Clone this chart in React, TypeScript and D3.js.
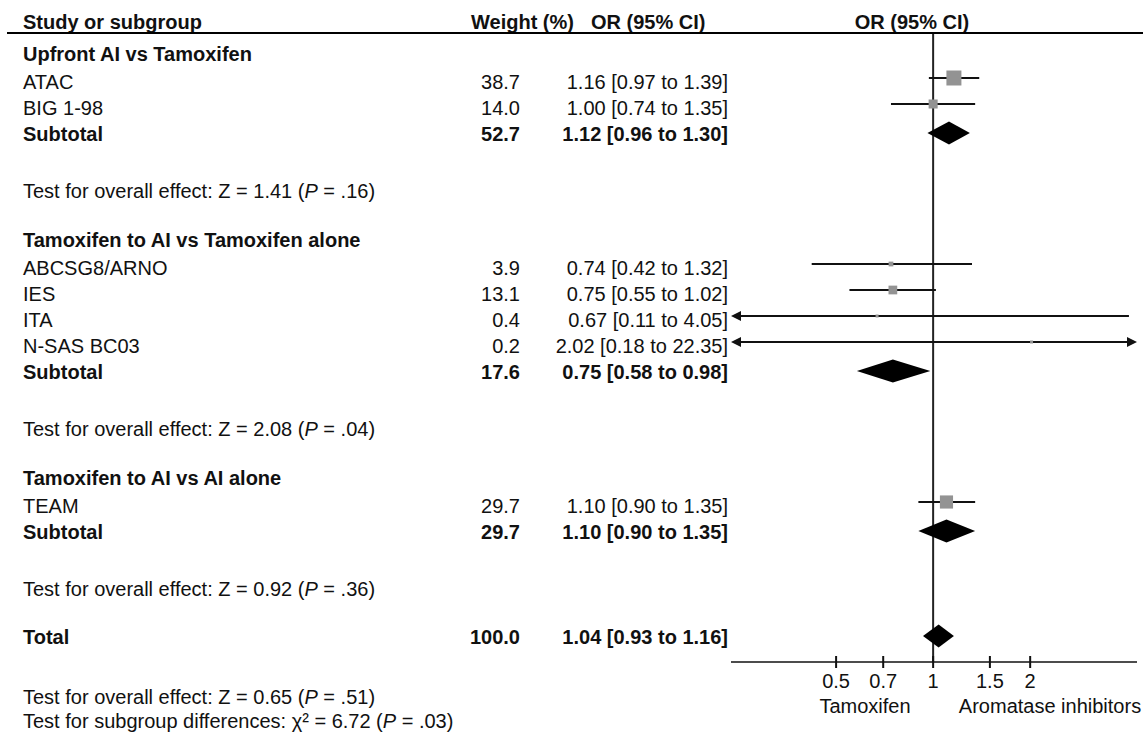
import React from 'react';
import * as d3 from 'd3';

// study level data
const groups = ['Upfront AI vs Tamoxifen', 'Tamoxifen to AI vs Tamoxifen alone', 'Tamoxifen to AI vs AI alone'];
const studies = ['ATAC', 'BIG 1-98', 'ABCSG8/ARNO', 'IES', 'ITA', 'N-SAS BC03', 'TEAM'];
const studyGroup = [0, 0, 1, 1, 1, 1, 2];
const weights = [38.7, 14.0, 3.9, 13.1, 0.4, 0.2, 29.7];
const oddsRatio = [1.16, 1.0, 0.74, 0.75, 0.67, 2.02, 1.1];
const lower = [0.97, 0.74, 0.42, 0.55, 0.11, 0.18, 0.9];
const upper = [1.39, 1.35, 1.32, 1.02, 4.05, 22.35, 1.35];

// subgroup totals
const subWeights = [52.7, 17.6, 29.7];
const subOR = [1.12, 0.75, 1.1];
const subLower = [0.96, 0.58, 0.9];
const subUpper = [1.3, 0.98, 1.35];
const subZ = ['1.41', '2.08', '0.92'];
const subP = ['.16', '.04', '.36'];

// overall
const totalWeight = 100.0;
const totalOR = 1.04;
const totalLower = 0.93;
const totalUpper = 1.16;
const totalZ = '0.65';
const totalP = '.51';
const chiSq = '6.72';
const chiP = '.03';

const ticks = [0.5, 0.7, 1, 1.5, 2];

const W = 1143;
const H = 732;
const FONT = '"Liberation Sans", Arial, sans-serif';
const FS = 20;

const fmt2 = d3.format('.2f');
const fmt1 = d3.format('.1f');
const ciText = (o: number, l: number, u: number) => `${fmt2(o)} [${fmt2(l)} to ${fmt2(u)}]`;

export default function App() {
  const x = d3.scaleLog().domain([0.236, 4.29]).range([731, 1137]);
  const [xMin, xMax] = x.range();
  const size = d3.scaleSqrt().domain([0, 38.7]).range([0, 15]);

  const labelX = 23;
  const weightX = 520;
  const ciX = 728;

  // vertical layout, row by row
  const rows: any[] = [];
  let y = 54;
  groups.forEach((g, gi) => {
    rows.push({ kind: 'group', y, label: g });
    y += 28;
    studies.forEach((s, i) => {
      if (studyGroup[i] !== gi) return;
      rows.push({ kind: 'study', y, i });
      y += 26;
    });
    rows.push({ kind: 'sub', y, gi });
    y += 57;
    rows.push({ kind: 'test', y, z: subZ[gi], p: subP[gi] });
    y += 49;
  });
  const totalY = y - 49 + 48;
  const axisY = totalY + 25;

  const diamond = (o: number, l: number, u: number, cy: number) => {
    const pts: [number, number][] = [
      [x(l), cy], [x(o), cy - 11.5], [x(u), cy], [x(o), cy + 11.5],
    ];
    return <polygon points={pts.map(p => p.join(',')).join(' ')} fill="#000" />;
  };

  const ciLine = (i: number, cy: number) => {
    const lo = lower[i] < x.domain()[0];
    const hi = upper[i] > x.domain()[1];
    const x1 = lo ? xMin : x(lower[i]);
    const x2 = hi ? xMax : x(upper[i]);
    const s = Math.max(3, size(weights[i]));
    return (
      <g key={'ci' + i}>
        <line x1={lo ? x1 + 4 : x1} x2={hi ? x2 - 4 : x2} y1={cy} y2={cy} stroke="#111" strokeWidth={2} />
        {lo && <polygon points={`${x1},${cy} ${x1 + 10},${cy - 5} ${x1 + 10},${cy + 5}`} fill="#111" />}
        {hi && <polygon points={`${x2},${cy} ${x2 - 10},${cy - 5} ${x2 - 10},${cy + 5}`} fill="#111" />}
        <rect x={x(oddsRatio[i]) - s / 2} y={cy - s / 2} width={s} height={s} fill="#939393" />
      </g>
    );
  };

  const text = (t: any, tx: number, cy: number, opts: any = {}) => (
    <text x={tx} y={cy + 7} fontFamily={FONT} fontSize={FS} fill="#111"
      fontWeight={opts.bold ? 'bold' : 'normal'} textAnchor={opts.anchor || 'start'}>
      {t}
    </text>
  );

  const testText = (z: string, p: string) => (
    <>Test for overall effect: Z = {z} (<tspan fontStyle="italic">P</tspan> = {p})</>
  );

  return (
    <svg width={W} height={H} style={{ position: 'absolute', left: 0, top: 0, background: '#fff' }}>
      {/* header */}
      {text('Study or subgroup', labelX, 22, { bold: true })}
      {text('Weight (%)', 471, 22, { bold: true })}
      {text('OR (95% CI)', 591, 22, { bold: true })}
      {text('OR (95% CI)', 912, 22, { bold: true, anchor: 'middle' })}
      <line x1={7} x2={W} y1={33} y2={33} stroke="#000" strokeWidth={2} />

      {/* line of no effect */}
      <line x1={x(1)} x2={x(1)} y1={34} y2={axisY} stroke="#222" strokeWidth={2} />

      {rows.map((r, k) => {
        if (r.kind === 'group') return <g key={k}>{text(r.label, labelX, r.y, { bold: true })}</g>;
        if (r.kind === 'study') {
          const i = r.i;
          return (
            <g key={k}>
              {text(studies[i], labelX, r.y)}
              {text(fmt1(weights[i]), weightX, r.y, { anchor: 'end' })}
              {text(ciText(oddsRatio[i], lower[i], upper[i]), ciX, r.y, { anchor: 'end' })}
              {ciLine(i, r.y - 4)}
            </g>
          );
        }
        if (r.kind === 'sub') {
          const gi = r.gi;
          return (
            <g key={k}>
              {text('Subtotal', labelX, r.y, { bold: true })}
              {text(fmt1(subWeights[gi]), weightX, r.y, { bold: true, anchor: 'end' })}
              {text(ciText(subOR[gi], subLower[gi], subUpper[gi]), ciX, r.y, { bold: true, anchor: 'end' })}
              {diamond(subOR[gi], subLower[gi], subUpper[gi], r.y - 1)}
            </g>
          );
        }
        return <g key={k}>{text(testText(r.z, r.p), labelX, r.y)}</g>;
      })}

      {/* total */}
      {text('Total', labelX, totalY, { bold: true })}
      {text(fmt1(totalWeight), weightX, totalY, { bold: true, anchor: 'end' })}
      {text(ciText(totalOR, totalLower, totalUpper), ciX, totalY, { bold: true, anchor: 'end' })}
      {diamond(totalOR, totalLower, totalUpper, totalY - 1)}

      {/* axis */}
      <line x1={xMin} x2={xMax} y1={axisY} y2={axisY} stroke="#111" strokeWidth={1.5} />
      {ticks.map(t => (
        <g key={t}>
          <line x1={x(t)} x2={x(t)} y1={axisY - 6} y2={axisY + 6} stroke="#111" strokeWidth={2} />
          {text(String(t), x(t), axisY + 19, { anchor: 'middle' })}
        </g>
      ))}
      {text('Tamoxifen', 865, axisY + 44, { anchor: 'middle' })}
      {text('Aromatase inhibitors', 1050, axisY + 44, { anchor: 'middle' })}

      {text(testText(totalZ, totalP), labelX, totalY + 60)}
      {text(<>Test for subgroup differences: χ² = {chiSq} (<tspan fontStyle="italic">P</tspan> = {chiP})</>, labelX, totalY + 84)}
    </svg>
  );
}
